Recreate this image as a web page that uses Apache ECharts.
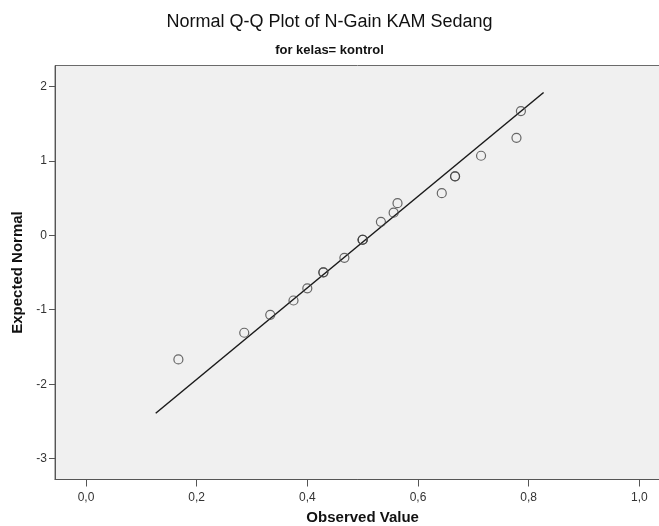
<!DOCTYPE html>
<html>
<head>
<meta charset="utf-8">
<script src="https://cdn.jsdelivr.net/npm/echarts@6/dist/echarts.min.js"></script>
<style>
  html, body { margin: 0; padding: 0; background: #fff; }
  #chart { width: 659px; height: 526px; }
</style>
</head>
<body>
<div id="chart"></div>
<script>
const observed = [0.167, 0.286, 0.333, 0.375, 0.400, 0.429, 0.429, 0.467, 0.500, 0.500,
                  0.500, 0.533, 0.556, 0.563, 0.643, 0.667, 0.667, 0.714, 0.778, 0.786];
const expected = [-1.668, -1.309, -1.068, -0.876, -0.712, -0.497, -0.497, -0.303, -0.060, -0.060,
                  -0.060, 0.180, 0.303, 0.431, 0.566, 0.792, 0.792, 1.068, 1.309, 1.668];
// reference line end points
const lineX = [0.126, 0.827];
const lineY = [-2.39, 1.917];

const xTicks = [0, 0.2, 0.4, 0.6, 0.8, 1.0];
const yTicks = [-3, -2, -1, 0, 1, 2];

const points = observed.map((v, i) => [v, expected[i]]);
const linePts = lineX.map((v, i) => [v, lineY[i]]);

const font = 'Liberation Sans, Arial, sans-serif';
const labelStyle = { color: '#333', fontSize: 12, fontFamily: font };
const nameStyle = { color: '#111', fontSize: 15, fontWeight: 'bold', fontFamily: font };

const chart = echarts.init(document.getElementById('chart'));
chart.setOption({
  animation: false,
  backgroundColor: '#ffffff',
  title: [
    {
      text: 'Normal Q-Q Plot of N-Gain KAM Sedang',
      left: 'center', top: 8,
      textStyle: { color: '#111', fontSize: 18, fontWeight: 'normal', fontFamily: font }
    },
    {
      text: 'for kelas= kontrol',
      left: 'center', top: 39,
      textStyle: { color: '#111', fontSize: 13, fontWeight: 'bold', fontFamily: font }
    }
  ],
  grid: {
    left: 55, top: 65.5, right: -11.3, bottom: 46.5,
    show: true,
    containLabel: false,
    outerBoundsMode: 'none',
    backgroundColor: '#f0f0f0',
    borderColor: '#6a6a6a',
    borderWidth: 1
  },
  xAxis: {
    type: 'value',
    min: -0.056, max: 1.056,
    name: 'Observed Value',
    nameLocation: 'middle',
    nameGap: 31,
    nameTextStyle: nameStyle,
    axisLine: { show: true, onZero: false, lineStyle: { color: '#555', width: 1 } },
    axisTick: { show: true, length: 7, customValues: xTicks, lineStyle: { color: '#555' } },
    axisLabel: {
      margin: 12,
      customValues: xTicks,
      formatter: v => v.toFixed(1).replace('.', ','),
      ...labelStyle
    },
    splitLine: { show: false }
  },
  yAxis: {
    type: 'value',
    min: -3.28, max: 2.28,
    name: 'Expected Normal',
    nameLocation: 'middle',
    nameGap: 28,
    nameTextStyle: nameStyle,
    axisLine: { show: true, onZero: false, lineStyle: { color: '#555', width: 1 } },
    axisTick: { show: true, length: 6, customValues: yTicks, lineStyle: { color: '#555' } },
    axisLabel: {
      margin: 8,
      customValues: yTicks,
      formatter: v => String(v),
      ...labelStyle
    },
    splitLine: { show: false }
  },
  series: [
    {
      type: 'line',
      data: linePts,
      symbol: 'none',
      lineStyle: { color: '#1a1a1a', width: 1.5 },
      z: 2
    },
    {
      type: 'scatter',
      data: points,
      symbol: 'circle',
      symbolSize: 9,
      itemStyle: { color: 'rgba(0,0,0,0)', borderColor: '#444', borderWidth: 1.2 },
      z: 3
    }
  ]
});
</script>
</body>
</html>
